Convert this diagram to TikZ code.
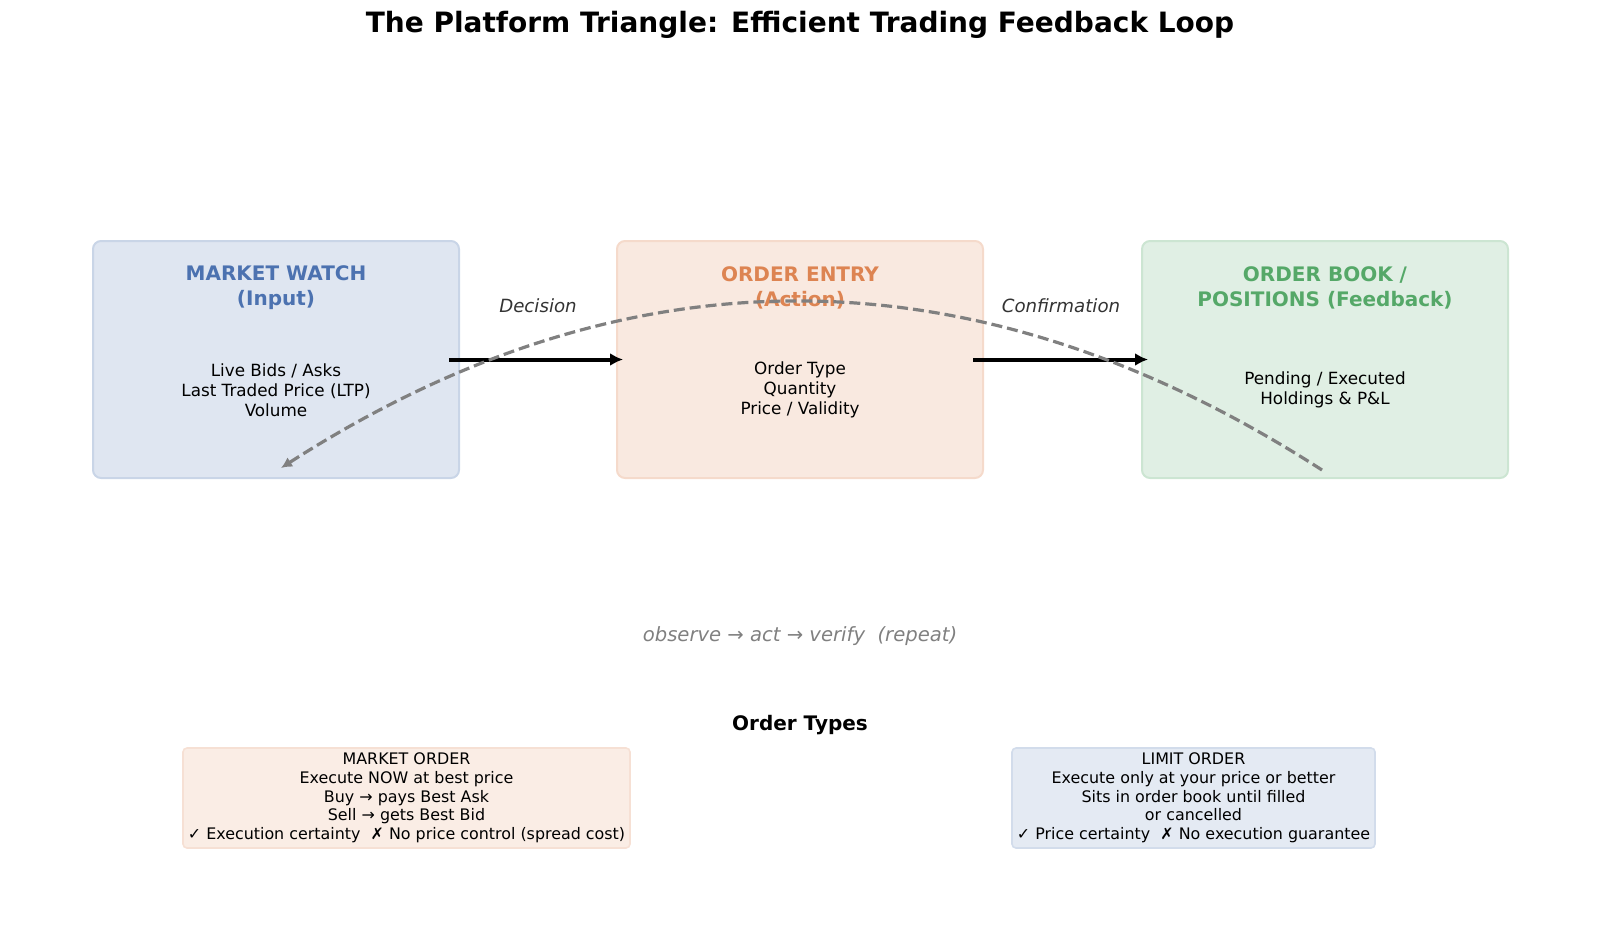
\documentclass[tikz,border=0pt]{standalone}
\usepackage{fontspec}
\setmainfont{DejaVu Sans}
\usetikzlibrary{arrows.meta}
\definecolor{cblue}{HTML}{4C72B0}
\definecolor{corange}{HTML}{DD8452}
\definecolor{cgreen}{HTML}{55A868}
\definecolor{cgray}{HTML}{808080}
\tikzset{
  bigbox/.style={draw=#1!30!white, fill=#1!18!white, line width=1pt, rounded corners=4pt,
    minimum width=183pt, minimum height=118.5pt, inner sep=0pt},
  boxtitle/.style={text=#1, font=\bfseries\fontsize{10}{12.5}\selectfont, align=center, inner sep=0pt},
  boxbody/.style={font=\fontsize{8.4}{10}\selectfont, align=center, inner sep=0pt},
  flowarrow/.style={line width=2pt, -{Latex[length=6.5pt,width=6.5pt]}},
  flowlabel/.style={font=\itshape\fontsize{9.1}{11}\selectfont, text=black!80, inner sep=0pt},
  loopcurve/.style={draw=cgray, line width=1.6pt, dash pattern=on 5.5pt off 2.5pt, -{Latex[length=5.5pt,width=5.5pt]}},
  smallbox/.style={draw=#1!25!white, fill=#1!15!white, line width=0.8pt, rounded corners=2pt,
    inner sep=0pt, font=\fontsize{7.95}{9.35}\selectfont, align=center},
}
\begin{document}
\begin{tikzpicture}[x=0.5pt,y=-0.5pt]
\useasboundingbox (0,0) rectangle (1600,927);
% title
\node[font=\bfseries\fontsize{14}{17}\selectfont, inner sep=0pt] (title) at (800,25) {The Platform Triangle: Efficient Trading Feedback Loop};
% boxes
\node[bigbox=cblue] (mw) at (276,359.5) {};
\node[bigbox=corange] (oe) at (800,359.5) {};
\node[bigbox=cgreen] (ob) at (1325,359.5) {};
\node[boxtitle=cblue] (mwt) at (276,288) {MARKET WATCH\\(Input)};
\node[boxtitle=corange] (oet) at (800,288) {ORDER ENTRY\\(Action)};
\node[boxtitle=cgreen] (obt) at (1325,288) {ORDER BOOK /\\POSITIONS (Feedback)};
\node[boxbody] (mwb) at (276,390) {Live Bids / Asks\\Last Traded Price (LTP)\\Volume};
\node[boxbody] (oeb) at (800,390) {Order Type\\Quantity\\Price / Validity};
\node[boxbody] (obb) at (1325,390) {Pending / Executed\\Holdings \& P\&L};
% arrows
\draw[flowarrow] ([xshift=-5.5pt]mw.east) -- ([xshift=3.5pt]oe.west);
\draw[flowarrow] ([xshift=-5.5pt]oe.east) -- ([xshift=3.5pt]ob.west);
\node[flowlabel] (dec) at (538,306) {Decision};
\node[flowlabel] (conf) at (1061,306) {Confirmation};
% feedback loop
\coordinate (ls) at ([xshift=-1.5pt,yshift=4.5pt]ob.south);
\coordinate (le) at ([xshift=2.5pt,yshift=5.5pt]mw.south);
\draw[loopcurve] (ls) .. controls (974.7,246.3) and (627.7,245.3) .. (le);
\node[font=\itshape\fontsize{9.8}{12}\selectfont, text=cgray, inner sep=0pt] (cycle) at (800,636) {observe → act → verify\ \ (repeat)};
% order types
\node[font=\bfseries\fontsize{10}{12}\selectfont, inner sep=0pt] (ot) at (800,725) {Order Types};
\node[smallbox=corange, minimum width=223.5pt, minimum height=50pt] (mo) at (406.5,798) {MARKET ORDER\\Execute NOW at best price\\Buy → pays Best Ask\\Sell → gets Best Bid\\✓ Execution certainty\ \ ✗ No price control (spread cost)};
\node[smallbox=cblue, minimum width=181.5pt, minimum height=50pt] (lo) at (1193.5,798) {LIMIT ORDER\\Execute only at your price or better\\Sits in order book until filled\\or cancelled\\✓ Price certainty\ \ ✗ No execution guarantee};
\end{tikzpicture}
\end{document}
